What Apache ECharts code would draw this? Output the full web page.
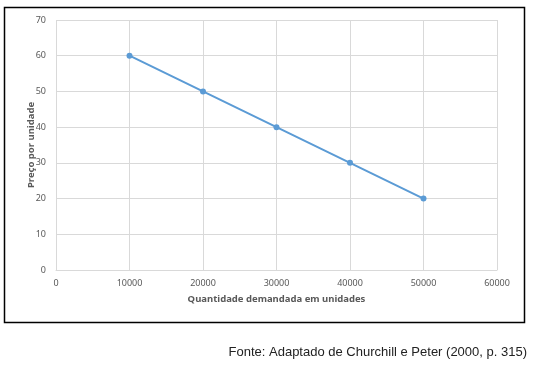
<!DOCTYPE html>
<html>
<head>
<meta charset="utf-8">
<script src="https://cdn.jsdelivr.net/npm/echarts@6/dist/echarts.min.js"></script>
<style>html,body{margin:0;padding:0;background:#fff;}#c{width:536px;height:367px;}</style>
</head>
<body>
<div id="c"></div>
<script>
const quantities = [10000, 20000, 30000, 40000, 50000];
const prices = [60, 50, 40, 30, 20];
const xTitle = 'Quantidade demandada em unidades';
const yTitle = 'Preço por unidade';
const source = 'Fonte: Adaptado de Churchill e Peter (2000, p. 315)';

const chart = echarts.init(document.getElementById('c'), null, {renderer: 'canvas'});
chart.setOption({
  animation: false,
  backgroundColor: '#fff',
  graphic: [
    {type: 'rect', shape: {x: 4.5, y: 7.5, width: 520, height: 315}, style: {fill: 'none', stroke: '#000', lineWidth: 1.5}, z: -1},
    {type: 'text', right: 9, top: 346, style: {text: source, font: '13px "Liberation Sans", Arial, sans-serif', fill: '#222'}}
  ],
  grid: {left: 56, right: 39, top: 20, bottom: 97, containLabel: false},
  xAxis: {
    type: 'value', min: 0, max: 60000, interval: 10000,
    name: xTitle, nameLocation: 'middle', nameGap: 24,
    nameTextStyle: {color: '#595959', fontSize: 9.5, fontWeight: 'bold', fontFamily: 'Noto Sans'},
    axisLine: {show: true, lineStyle: {color: '#d9d9d9'}},
    axisTick: {show: false},
    axisLabel: {color: '#595959', fontSize: 9, margin: 9, fontFamily: 'Noto Sans', formatter: v => String(v)},
    splitLine: {show: true, lineStyle: {color: '#d9d9d9'}}
  },
  yAxis: {
    type: 'value', min: 0, max: 70, interval: 10,
    name: yTitle, nameLocation: 'middle', nameGap: 20, nameMoveOverlap: false,
    nameTextStyle: {color: '#595959', fontSize: 9.5, fontWeight: 'bold', fontFamily: 'Noto Sans'},
    axisLine: {show: false},
    axisTick: {show: false},
    axisLabel: {color: '#595959', fontSize: 9, margin: 10, fontFamily: 'Noto Sans'},
    splitLine: {show: true, lineStyle: {color: '#d9d9d9'}}
  },
  series: [{
    type: 'line',
    data: quantities.map((q, i) => [q, prices[i]]),
    symbol: 'circle', symbolSize: 6,
    lineStyle: {color: '#5B9BD5', width: 2},
    itemStyle: {color: '#5B9BD5'}
  }]
});
</script>
</body>
</html>
